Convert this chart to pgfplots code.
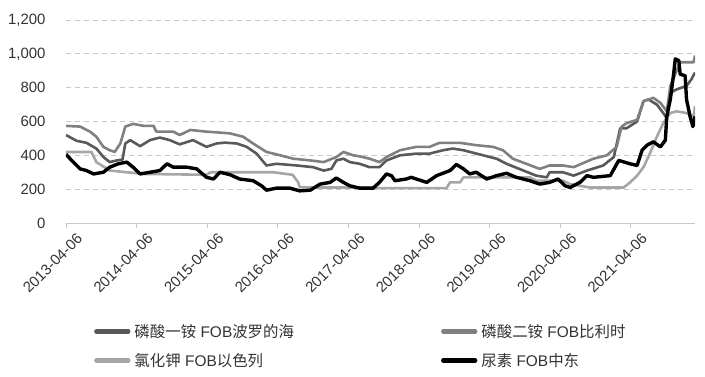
\documentclass[border=0pt]{standalone}
\usepackage{pgfplots}
\pgfplotsset{compat=1.18}
\usepackage{fontspec}
\setmainfont{Liberation Sans}
\newfontfamily\cjk{Noto Sans CJK SC}
\definecolor{s1}{HTML}{595959}
\definecolor{s2}{HTML}{808080}
\definecolor{s3}{HTML}{A6A6A6}
\definecolor{gridc}{HTML}{C8C8C8}
\definecolor{txt}{HTML}{333333}
\begin{document}
\begin{tikzpicture}
\useasboundingbox (-66bp,-154bp) rectangle (639bp,223bp);
\begin{axis}[
  at={(0,0)}, anchor=south west,
  scale only axis, width=629bp, height=203bp,
  xmin=0, xmax=8.91, ymin=0, ymax=1200,
  axis x line*=bottom, axis y line*=left,
  y axis line style={draw=none},
  x axis line style={gridc, line width=0.8bp},
  xtick={0,1,2,3,4,5,6,7,8},
  xticklabels={2013-04-06,2014-04-06,2015-04-06,2016-04-06,2017-04-06,2018-04-06,2019-04-06,2020-04-06,2021-04-06},
  x tick label style={rotate=45, anchor=north east, font=\fontsize{15}{17}\selectfont, text=txt, inner sep=1bp, xshift=5bp, yshift=-9bp},
  xtick style={gridc, line width=0.8bp},
  tick align=outside, major tick length=5bp,
  ytick={0,200,400,600,800,1000,1200},
  ytick style={draw=none},
  yticklabel style={font=\fontsize{15}{17}\selectfont, text=txt, xshift=-12bp},
  /pgf/number format/.cd, 1000 sep={,}, assume math mode=true,
  /pgfplots/.cd,
  ymajorgrids, y grid style={gridc, dash pattern=on 5bp off 4bp, line width=0.8bp},
  legend columns=2,
  legend cell align=left,
  legend style={draw=none, fill=none, inner sep=0pt, at={(0,0)}, anchor=north west, xshift=28bp, yshift=-101bp,
    font=\fontsize{15.5}{17}\selectfont, text=txt,
    nodes={inner sep=0pt},
    /tikz/column 1/.style={column sep=4bp},
    /tikz/column 2/.style={column sep=147bp},
    /tikz/column 3/.style={column sep=4bp},
    row sep=14.5bp},
  legend image code/.code={\draw[#1, line width=4.3bp, line cap=round] (0bp,0bp) -- (32bp,0bp);},
  every axis plot/.append style={line join=round},
]
\addplot[s1, line width=2.6bp] coordinates {
(0.00,520)(0.15,486)(0.29,474)(0.43,440)(0.53,390)(0.62,360)(0.72,370)(0.80,375)(0.84,470)(0.91,490)
(1.05,454)(1.19,490)(1.33,505)(1.47,490)(1.61,465)(1.80,490)(1.99,450)(2.13,470)(2.25,475)(2.42,470)
(2.56,450)(2.70,410)(2.84,340)(2.98,350)(3.27,340)(3.50,330)(3.65,310)(3.76,320)(3.83,370)(3.93,380)
(4.02,360)(4.16,350)(4.30,330)(4.44,330)(4.54,370)(4.73,400)(4.96,410)(5.15,410)(5.34,430)(5.48,440)
(5.63,430)(5.91,400)(6.10,380)(6.24,350)(6.48,310)(6.66,280)(6.81,270)(6.85,300)(7.04,300)(7.19,280)
(7.38,310)(7.61,340)(7.76,390)(7.85,560)(7.94,560)(8.09,600)(8.18,720)(8.25,730)(8.37,700)(8.46,650)
(8.51,620)(8.56,770)(8.65,790)(8.79,810)(8.86,850)(8.91,890)
};
\addlegendentry{{\cjk 磷酸一铵} FOB{\cjk 波罗的海}}
\addplot[s2, line width=2.6bp] coordinates {
(0.00,574)(0.20,570)(0.34,540)(0.43,510)(0.53,450)(0.62,430)(0.69,420)(0.77,470)(0.84,570)(0.95,586)
(1.10,574)(1.24,574)(1.28,540)(1.52,540)(1.61,520)(1.76,550)(1.99,540)(2.13,536)(2.32,530)(2.51,510)
(2.65,470)(2.84,420)(2.98,406)(3.22,380)(3.46,370)(3.65,360)(3.83,390)(3.93,420)(4.07,400)(4.16,394)
(4.30,380)(4.44,360)(4.54,390)(4.73,430)(4.96,450)(5.15,450)(5.29,474)(5.58,474)(5.81,460)(6.05,450)
(6.19,430)(6.33,380)(6.52,350)(6.71,320)(6.85,340)(7.04,340)(7.19,330)(7.47,380)(7.66,400)(7.80,450)
(7.87,570)(7.94,590)(8.09,610)(8.18,720)(8.32,740)(8.42,710)(8.51,660)(8.56,810)(8.63,880)(8.70,950)
(8.89,950)(8.91,990)
};
\addlegendentry{{\cjk 磷酸二铵} FOB{\cjk 比利时}}
\addplot[s3, line width=2.6bp] coordinates {
(0.00,420)(0.36,420)(0.43,360)(0.62,310)(0.86,300)(1.10,290)(1.99,285)(2.05,300)(2.93,300)(3.21,285)
(3.29,240)(3.31,212)(3.46,210)(4.02,210)(4.49,206)(5.39,206)(5.44,240)(5.58,240)(5.63,270)(5.91,270)
(6.57,270)(6.66,250)(7.04,250)(7.14,230)(7.42,210)(7.90,210)(7.99,240)(8.09,280)(8.18,330)(8.27,410)
(8.37,510)(8.46,590)(8.56,650)(8.65,660)(8.79,650)(8.89,630)(8.91,690)
};
\addlegendentry{{\cjk 氯化钾} FOB{\cjk 以色列}}
\addplot[black, line width=3.4bp] coordinates {
(0.00,406)(0.08,370)(0.20,320)(0.29,310)(0.39,290)(0.53,300)(0.62,330)(0.74,350)(0.86,360)(0.95,330)
(1.05,290)(1.19,300)(1.33,310)(1.43,350)(1.52,330)(1.71,330)(1.85,320)(1.99,270)(2.09,260)(2.18,300)
(2.32,286)(2.46,260)(2.65,250)(2.77,220)(2.84,194)(2.98,206)(3.17,206)(3.31,190)(3.46,194)(3.60,230)
(3.74,240)(3.83,266)(3.93,240)(4.02,220)(4.16,206)(4.35,206)(4.44,240)(4.54,290)(4.61,280)(4.66,250)
(4.82,260)(4.89,270)(5.11,240)(5.25,280)(5.44,310)(5.53,346)(5.63,320)(5.72,290)(5.81,300)(5.96,260)
(6.10,280)(6.24,294)(6.38,270)(6.57,250)(6.71,230)(6.85,240)(6.97,260)(7.07,220)(7.14,210)(7.28,240)
(7.38,280)(7.47,270)(7.71,280)(7.83,370)(7.99,350)(8.09,340)(8.16,430)(8.23,460)(8.32,480)(8.42,450)
(8.49,490)(8.51,630)(8.56,730)(8.61,890)(8.63,970)(8.68,960)(8.70,880)(8.77,870)(8.79,730)(8.84,630)
(8.88,570)(8.91,630)
};
\addlegendentry{{\cjk 尿素} FOB{\cjk 中东}}
\end{axis}
\end{tikzpicture}
\end{document}
